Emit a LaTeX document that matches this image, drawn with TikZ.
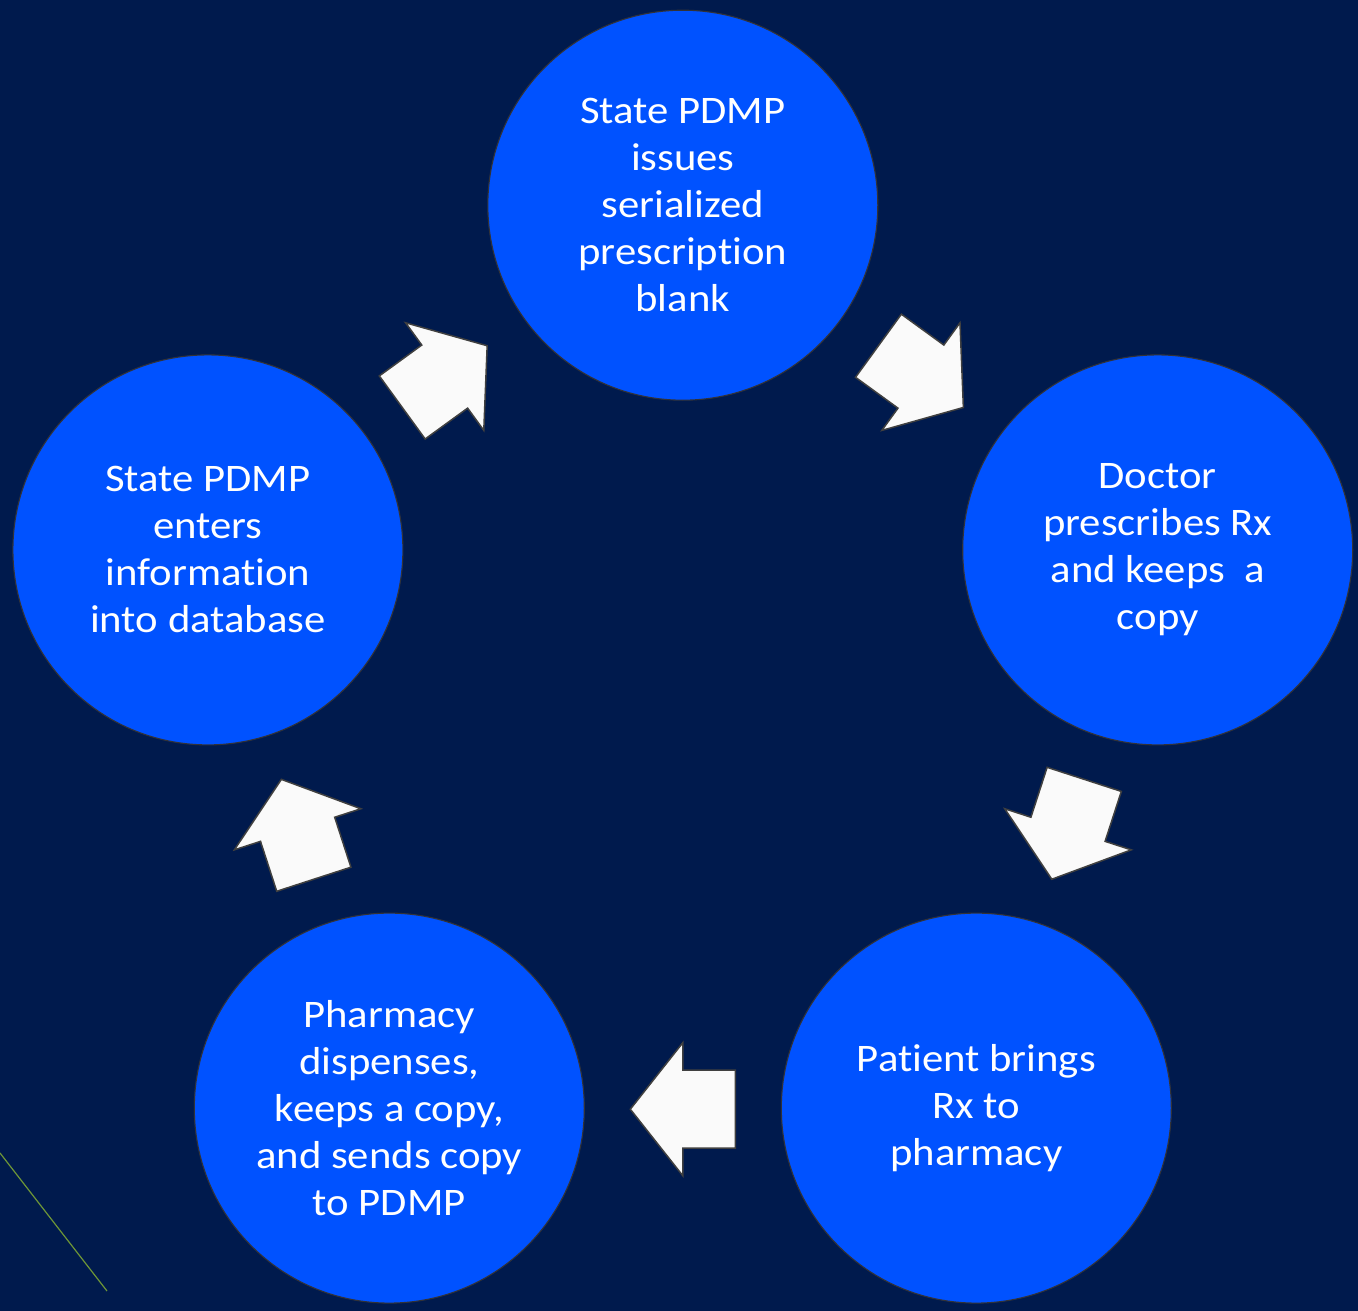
\documentclass[tikz,border=0pt]{standalone}
\usepackage{fontspec}
\setmainfont[Ligatures=NoCommon, FakeStretch=1.095]{Carlito}
\definecolor{bg}{RGB}{0,26,77}
\definecolor{disc}{RGB}{0,82,255}
\definecolor{rim}{RGB}{50,50,55}
\definecolor{arrfill}{RGB}{250,250,250}
\definecolor{arredge}{RGB}{64,64,64}
\definecolor{leaf}{RGB}{110,150,55}
\tikzset{
  stage/.style={circle, draw=rim, line width=1.1pt, fill=disc, minimum size=390pt, inner sep=0pt,
    text=white, align=center, font=\fontsize{39}{47}\selectfont},
  blockarrow/.style={fill=arrfill, draw=arredge, line width=1.5pt, line join=miter},
}
\newcommand{\blockarr}[3]{%
  \draw[blockarrow, shift={(#1,#2)}, rotate=#3]
    (-52.5,-39) -- (0,-39) -- (0,-66.5) -- (52.5,0) -- (0,66.5) -- (0,39) -- (-52.5,39) -- cycle;}
\begin{document}
\begin{tikzpicture}[x=1pt,y=-1pt]
\fill[bg] (0,0) rectangle (1358,1311);
\useasboundingbox (0,0) rectangle (1358,1311);
\coordinate (g1) at (0,1153);
\coordinate (g2) at (107,1291);
\draw[leaf, line width=1.2pt] (g1) -- (g2);

\node[stage] (top) at (682.8,205.2) {State PDMP\\issues\\serialized\\prescription\\blank};
\node[stage] (right) at (1157.7,549.9) {Doctor\\prescribes Rx\\and keeps~ a\\copy};
\node[stage] (bright) at (976.3,1108.1) {Patient brings\\Rx to\\pharmacy};
\node[stage] (bleft) at (389.3,1108.1) {Pharmacy\\dispenses,\\keeps a copy,\\and sends copy\\to PDMP};
\node[stage] (left) at (207.9,549.9) {State PDMP\\enters\\information\\into database};

\blockarr{682.8}{1109.2}{180}
\blockarr{297.6}{829.3}{108}
\blockarr{444.7}{376.6}{36}
\blockarr{920.9}{376.6}{-36}
\blockarr{1068.0}{829.3}{-108}
\end{tikzpicture}
\end{document}
